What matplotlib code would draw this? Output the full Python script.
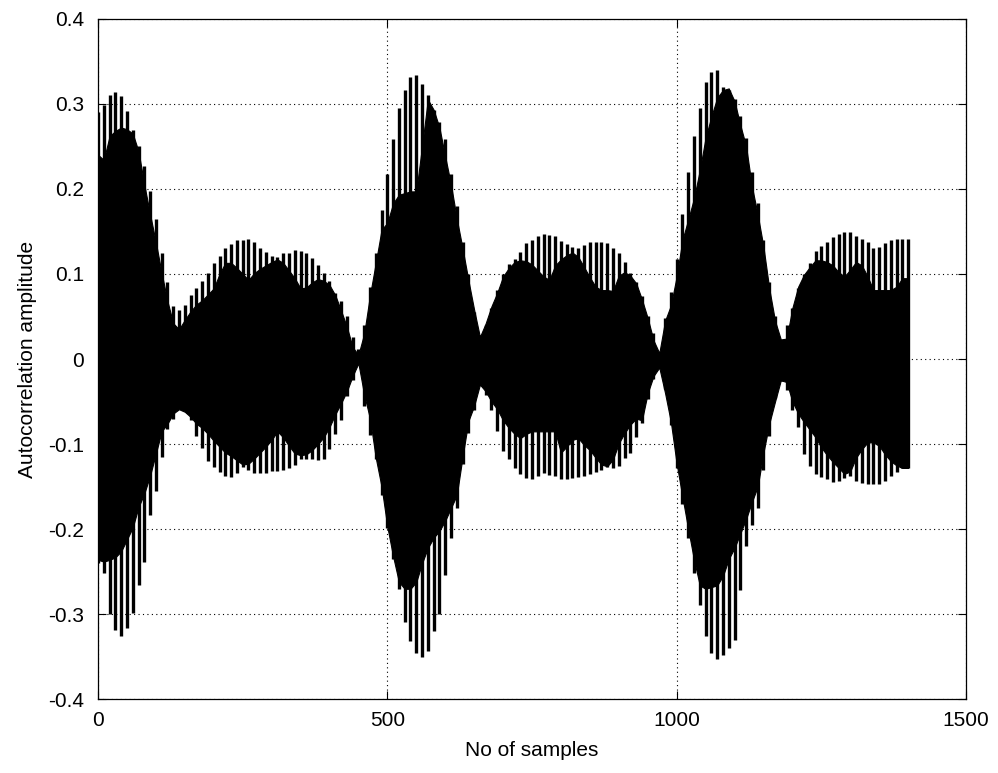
import numpy as np
import matplotlib
matplotlib.use("Agg")
import matplotlib.pyplot as plt
from matplotlib.ticker import FuncFormatter

# sample index of every envelope reading (0 .. 1400, step 10)
sample_idx = list(range(0, 1401, 10))

# outer envelope (tips of the oscillation), upper side
upper_outer = [
    0.290, 0.299, 0.310, 0.314, 0.309, 0.291, 0.269, 0.250, 0.227, 0.197,
    0.164, 0.124, 0.090, 0.062, 0.058, 0.064, 0.075, 0.084, 0.092, 0.101,
    0.113, 0.121, 0.130, 0.135, 0.140, 0.140, 0.141, 0.137, 0.131, 0.126,
    0.121, 0.120, 0.124, 0.125, 0.128, 0.127, 0.124, 0.119, 0.110, 0.101,
    0.092, 0.078, 0.068, 0.050, 0.026, 0.012, 0.040, 0.085, 0.125, 0.175,
    0.217, 0.258, 0.295, 0.316, 0.331, 0.334, 0.323, 0.310, 0.293, 0.279,
    0.258, 0.218, 0.180, 0.137, 0.100, 0.055, 0.028, 0.040, 0.060, 0.081,
    0.100, 0.112, 0.118, 0.126, 0.136, 0.140, 0.145, 0.147, 0.146, 0.144,
    0.139, 0.135, 0.132, 0.130, 0.134, 0.137, 0.137, 0.137, 0.136, 0.130,
    0.124, 0.114, 0.101, 0.091, 0.074, 0.050, 0.030, 0.008, 0.048, 0.079,
    0.118, 0.170, 0.220, 0.262, 0.295, 0.325, 0.337, 0.340, 0.320, 0.316,
    0.305, 0.285, 0.260, 0.220, 0.183, 0.140, 0.091, 0.050, 0.022, 0.040,
    0.060, 0.083, 0.100, 0.113, 0.127, 0.133, 0.138, 0.143, 0.147, 0.149,
    0.149, 0.145, 0.141, 0.137, 0.130, 0.132, 0.136, 0.140, 0.141, 0.141,
    0.141,
]

# inner (solid) envelope, upper side
upper_inner = [
    0.240, 0.234, 0.262, 0.268, 0.272, 0.270, 0.265, 0.244, 0.205, 0.170,
    0.137, 0.101, 0.068, 0.042, 0.035, 0.046, 0.056, 0.064, 0.069, 0.076,
    0.083, 0.100, 0.113, 0.113, 0.107, 0.100, 0.093, 0.101, 0.106, 0.110,
    0.114, 0.117, 0.113, 0.104, 0.095, 0.083, 0.084, 0.090, 0.094, 0.092,
    0.087, 0.075, 0.057, 0.038, 0.014, 0.005, 0.030, 0.075, 0.113, 0.152,
    0.160, 0.183, 0.193, 0.195, 0.197, 0.197, 0.250, 0.305, 0.293, 0.272,
    0.238, 0.205, 0.165, 0.130, 0.093, 0.058, 0.026, 0.042, 0.062, 0.078,
    0.097, 0.107, 0.114, 0.116, 0.115, 0.111, 0.104, 0.097, 0.093, 0.110,
    0.117, 0.122, 0.125, 0.120, 0.108, 0.096, 0.085, 0.081, 0.081, 0.080,
    0.098, 0.102, 0.098, 0.089, 0.070, 0.048, 0.022, 0.007, 0.045, 0.063,
    0.097, 0.140, 0.164, 0.189, 0.222, 0.260, 0.285, 0.307, 0.316, 0.318,
    0.303, 0.275, 0.250, 0.203, 0.170, 0.132, 0.083, 0.045, 0.023, 0.024,
    0.060, 0.085, 0.099, 0.108, 0.116, 0.116, 0.114, 0.110, 0.102, 0.097,
    0.105, 0.114, 0.110, 0.097, 0.081, 0.081, 0.081, 0.081, 0.085, 0.095,
    0.095,
]

# inner (solid) envelope, lower side
lower_inner = [
    -0.236, -0.238, -0.236, -0.233, -0.226, -0.212, -0.198, -0.174, -0.158, -0.137,
    -0.111, -0.085, -0.076, -0.064, -0.059, -0.062, -0.068, -0.076, -0.081, -0.088,
    -0.096, -0.103, -0.110, -0.114, -0.119, -0.124, -0.123, -0.117, -0.110, -0.103,
    -0.095, -0.085, -0.092, -0.102, -0.111, -0.113, -0.112, -0.107, -0.100, -0.092,
    -0.080, -0.065, -0.052, -0.038, -0.020, -0.005, -0.042, -0.070, -0.116, -0.150,
    -0.197, -0.232, -0.262, -0.270, -0.270, -0.262, -0.240, -0.222, -0.210, -0.202,
    -0.190, -0.175, -0.160, -0.115, -0.073, -0.055, -0.030, -0.038, -0.050, -0.059,
    -0.072, -0.081, -0.088, -0.093, -0.088, -0.085, -0.085, -0.085, -0.085, -0.085,
    -0.110, -0.103, -0.095, -0.093, -0.101, -0.107, -0.116, -0.124, -0.126, -0.118,
    -0.099, -0.087, -0.077, -0.070, -0.072, -0.040, -0.020, -0.010, -0.040, -0.074,
    -0.123, -0.162, -0.200, -0.236, -0.266, -0.270, -0.268, -0.266, -0.255, -0.235,
    -0.222, -0.205, -0.188, -0.168, -0.150, -0.110, -0.076, -0.050, -0.025, -0.027,
    -0.050, -0.064, -0.074, -0.083, -0.092, -0.104, -0.113, -0.121, -0.128, -0.135,
    -0.132, -0.116, -0.106, -0.098, -0.098, -0.102, -0.112, -0.120, -0.125, -0.128,
    -0.128,
]

# outer envelope (tips of the oscillation), lower side
lower_outer = [
    -0.240, -0.252, -0.300, -0.318, -0.325, -0.316, -0.298, -0.265, -0.238, -0.183,
    -0.155, -0.115, -0.082, -0.070, -0.047, -0.058, -0.072, -0.090, -0.105, -0.120,
    -0.127, -0.133, -0.138, -0.139, -0.134, -0.127, -0.131, -0.134, -0.134, -0.134,
    -0.132, -0.132, -0.130, -0.128, -0.124, -0.118, -0.117, -0.118, -0.119, -0.117,
    -0.106, -0.088, -0.072, -0.044, -0.025, -0.006, -0.055, -0.089, -0.118, -0.160,
    -0.198, -0.235, -0.270, -0.309, -0.331, -0.346, -0.350, -0.343, -0.320, -0.300,
    -0.254, -0.210, -0.175, -0.123, -0.087, -0.060, -0.030, -0.042, -0.060, -0.085,
    -0.108, -0.118, -0.128, -0.135, -0.140, -0.141, -0.138, -0.134, -0.136, -0.138,
    -0.141, -0.141, -0.140, -0.139, -0.138, -0.135, -0.133, -0.130, -0.127, -0.128,
    -0.126, -0.116, -0.110, -0.092, -0.075, -0.047, -0.024, -0.010, -0.035, -0.078,
    -0.128, -0.170, -0.210, -0.252, -0.289, -0.326, -0.346, -0.352, -0.348, -0.340,
    -0.330, -0.272, -0.220, -0.195, -0.175, -0.130, -0.090, -0.046, -0.026, -0.036,
    -0.060, -0.080, -0.112, -0.126, -0.135, -0.139, -0.141, -0.144, -0.143, -0.140,
    -0.138, -0.143, -0.146, -0.147, -0.147, -0.147, -0.143, -0.138, -0.133, -0.128,
    -0.128,
]

x_ticks = [0, 500, 1000, 1500]
y_ticks = [-0.4, -0.3, -0.2, -0.1, 0, 0.1, 0.2, 0.3, 0.4]

plt.rcParams['font.family'] = ['Liberation Sans', 'DejaVu Sans']

fig = plt.figure(figsize=(9.98, 7.73), dpi=100)
ax = fig.add_axes([0.0982, 0.0952, 0.8697, 0.8807])

ax.fill_between(sample_idx, lower_inner, upper_inner, color='black', linewidth=0.8)
ax.vlines(sample_idx, lower_outer, upper_outer, color='black', linewidth=2.4)

ax.set_xlim(0, 1500)
ax.set_ylim(-0.4, 0.4)
ax.set_xticks(x_ticks)
ax.set_yticks(y_ticks)
ax.yaxis.set_major_formatter(FuncFormatter(lambda v, p: ('%g' % round(v, 2)).replace('\u2212', '-')))
ax.xaxis.set_major_formatter(FuncFormatter(lambda v, p: '%d' % v))

ax.grid(True, color='black', linestyle=(0, (1, 3)), linewidth=0.8)
ax.set_axisbelow(True)
ax.tick_params(direction='in', top=True, right=True, length=6, width=0.8,
               labelsize=15, colors='black')
ax.tick_params(axis='y', pad=10)
ax.tick_params(axis='x', pad=8)
for s in ax.spines.values():
    s.set_linewidth(0.9)
    s.set_color('black')

ax.set_xlabel('No of samples', fontsize=15, labelpad=8)
ax.set_ylabel('Autocorrelation amplitude', fontsize=15, labelpad=8)

fig.savefig('out.png', dpi=100, facecolor='white')
